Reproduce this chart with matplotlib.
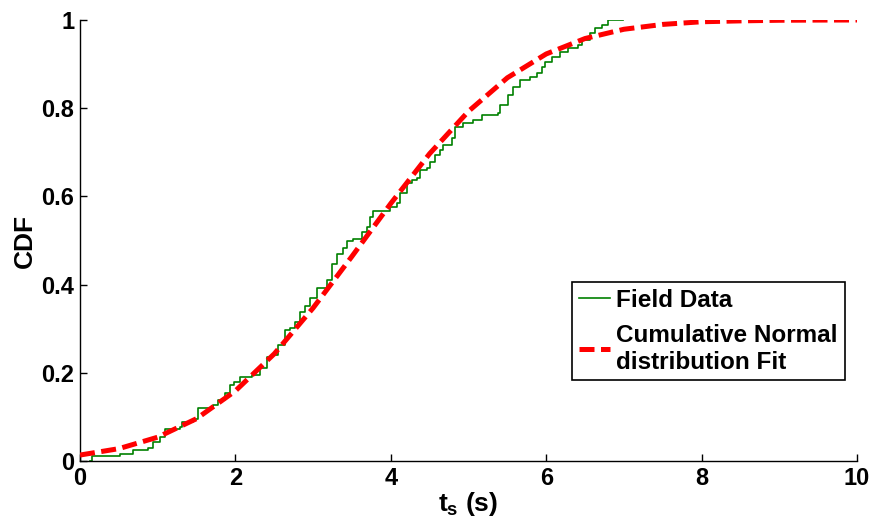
import matplotlib
matplotlib.use("Agg")
import matplotlib.pyplot as plt

# Field data: empirical CDF steps (x where step occurs, CDF value after step)
field_x = [0.13, 0.16, 0.51, 0.68, 0.87, 0.94, 1.03, 1.09, 1.29, 1.31, 1.45, 1.52,
           1.71, 1.78, 1.87, 1.93, 1.98, 2.06, 2.21, 2.32, 2.41, 2.47, 2.55, 2.64,
           2.70, 2.77, 2.83, 2.90, 2.96, 3.05, 3.18, 3.24, 3.31, 3.39, 3.44, 3.51,
           3.63, 3.69, 3.73, 3.77, 3.99, 4.08, 4.12, 4.21, 4.27, 4.34, 4.38, 4.47,
           4.50, 4.57, 4.63, 4.67, 4.79, 4.83, 4.93, 5.06, 5.17, 5.38, 5.41, 5.51,
           5.57, 5.66, 5.79, 5.88, 5.95, 5.98, 6.07, 6.18, 6.28, 6.41, 6.46, 6.56,
           6.63, 6.72, 6.80, 6.99]
field_y = [0.000, 0.011, 0.016, 0.025, 0.030, 0.043, 0.054, 0.072, 0.078, 0.088, 0.095, 0.120,
           0.127, 0.138, 0.154, 0.172, 0.180, 0.190, 0.195, 0.210, 0.236, 0.240, 0.263, 0.297,
           0.302, 0.315, 0.338, 0.352, 0.370, 0.392, 0.410, 0.447, 0.470, 0.483, 0.500, 0.503,
           0.520, 0.530, 0.553, 0.567, 0.576, 0.585, 0.608, 0.630, 0.637, 0.642, 0.660, 0.665,
           0.678, 0.694, 0.705, 0.717, 0.732, 0.757, 0.766, 0.773, 0.785, 0.789, 0.807, 0.830,
           0.848, 0.864, 0.871, 0.880, 0.893, 0.905, 0.916, 0.927, 0.936, 0.943, 0.955, 0.970,
           0.982, 0.989, 1.000, 1.000]

# Cumulative normal fit
fit_x = [0.0, 0.5, 1.0, 1.5, 2.0, 2.5, 3.0, 3.5, 4.0, 4.5, 5.0,
         5.5, 6.0, 6.5, 7.0, 7.5, 8.0, 8.5, 9.0, 9.5, 10.0]
fit_y = [0.0135, 0.028, 0.054, 0.096, 0.159, 0.243, 0.347, 0.464, 0.584, 0.697, 0.793,
         0.869, 0.923, 0.958, 0.979, 0.990, 0.996, 0.998, 0.9994, 0.9998, 1.0]

x_ticks = [0, 2, 4, 6, 8, 10]
x_tick_labels = ["0", "2", "4", "6", "8", "10"]
y_ticks = [0, 0.2, 0.4, 0.6, 0.8, 1.0]
y_tick_labels = ["0", "0.2", "0.4", "0.6", "0.8", "1"]

plt.rcParams["font.family"] = ["Liberation Sans", "DejaVu Sans"]
plt.rcParams["font.weight"] = "bold"
plt.rcParams["mathtext.fontset"] = "custom"
plt.rcParams["mathtext.rm"] = "Liberation Sans:bold"
plt.rcParams["mathtext.it"] = "Liberation Sans:bold"
plt.rcParams["mathtext.bf"] = "Liberation Sans:bold"

fig = plt.figure(figsize=(8.73, 5.16), dpi=100)
ax = fig.add_axes([80 / 873, 1 - 461 / 516, 777 / 873, 441 / 516])

ax.plot(field_x, field_y, drawstyle="steps-post", color="#008000", lw=1.2,
        label="Field Data", zorder=2)
ax.plot(fit_x, fit_y, color="#ff0000", lw=3.6, dashes=(3.0, 1.3),
        label="Cumulative Normal\ndistribution Fit", zorder=3)

ax.set_xlim(0, 10)
ax.set_ylim(0, 1)
ax.set_xticks(x_ticks)
ax.set_xticklabels(x_tick_labels)
ax.set_yticks(y_ticks)
ax.set_yticklabels(y_tick_labels)
ax.tick_params(direction="in", length=5, width=1, labelsize=17, pad=4)
for lab in ax.get_xticklabels() + ax.get_yticklabels():
    lab.set_fontweight("bold")

ax.spines["top"].set_visible(False)
ax.spines["right"].set_visible(False)
for s in ("left", "bottom"):
    ax.spines[s].set_linewidth(1.0)

ax.set_xlabel(r"$t_s$ (s)", fontsize=19, fontweight="bold", labelpad=0)
ax.set_ylabel("CDF", fontsize=19, fontweight="bold", labelpad=3)

leg = ax.legend(loc="upper left", bbox_to_anchor=(0.633, 0.406), frameon=True,
                fancybox=False, edgecolor="black", framealpha=1,
                prop={"size": 17.5, "weight": "bold"}, handlelength=1.3,
                handletextpad=0.25, borderpad=0.28, labelspacing=0.5,
                borderaxespad=0)
leg.get_frame().set_linewidth(1.2)

fig.savefig("out.png", dpi=100)
